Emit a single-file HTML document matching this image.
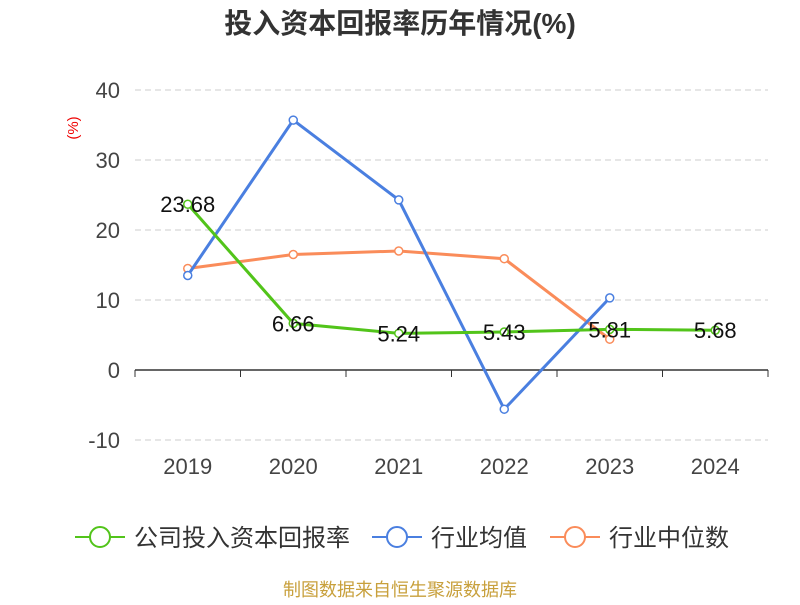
<!DOCTYPE html>
<html><head><meta charset="utf-8"><style>
body{margin:0;background:#fff;width:800px;height:600px;overflow:hidden;font-family:"Liberation Sans","Noto Sans CJK SC",sans-serif}
</style></head><body>
<svg id="c" width="800" height="600" xmlns="http://www.w3.org/2000/svg">
<text x="400" y="33" text-anchor="middle" font-size="28" font-weight="bold" fill="#333" font-family="Liberation Sans,Noto Sans CJK SC,sans-serif">投入资本回报率历年情况(%)</text>
<text x="78" y="128" text-anchor="middle" font-size="15" fill="#e00" transform="rotate(-90 78 128)">(%)</text>
<g id="grid"></g><g id="series"></g>
<text x="400" y="596" text-anchor="middle" font-size="18" fill="#c8a03c" font-family="Liberation Sans,Noto Sans CJK SC,sans-serif">制图数据来自恒生聚源数据库</text>
</svg>
<script>
const categories=["2019","2020","2021","2022","2023","2024"];
const yTicks=[-10,0,10,20,30,40];
const company=[23.68,6.66,5.24,5.43,5.81,5.68];
const industryMean=[13.5,35.7,24.3,-5.6,10.3];
const industryMedian=[14.5,16.5,17.0,15.9,4.4];
const companyLabels=["23.68","6.66","5.24","5.43","5.81","5.68"];
const NS="http://www.w3.org/2000/svg";
const x0=135,x1=768,bw=(x1-x0)/categories.length;
const xs=i=>x0+bw*(i+0.5);
const ys=v=>370-v*7;
const g=document.getElementById('grid'),s=document.getElementById('series');
function mk(p,tag,at){const e=document.createElementNS(NS,tag);for(const k in at)e.setAttribute(k,at[k]);p.appendChild(e);return e;}
yTicks.forEach(t=>{
 if(t!==0){const l=mk(g,'line',{x1:x0,x2:x1,y1:ys(t),y2:ys(t),stroke:'#ccc','stroke-dasharray':'6,4'});
 
 }
 const tx=mk(g,'text',{x:120,y:ys(t)+8,'text-anchor':'end','font-size':22,fill:'#444'});tx.textContent=t;
 
 
});
const ax=mk(g,'line',{x1:x0,x2:x1,y1:ys(0),y2:ys(0),stroke:'#333','stroke-width':1.5});


for(let i=0;i<=categories.length;i++){mk(g,'line',{x1:x0+bw*i,x2:x0+bw*i,y1:370,y2:377,stroke:'#333'});}
categories.forEach((c,i)=>{const t=mk(g,'text',{x:xs(i),y:474,'text-anchor':'middle','font-size':22,fill:'#444'});t.textContent=c;
 
 });
function series(data,color,name){
 const pl=mk(s,'polyline',{points:data.map((v,i)=>xs(i)+','+ys(v)).join(' '),fill:'none',stroke:color,'stroke-width':3});
 
 
 data.forEach((v,i)=>{const c=mk(s,'circle',{cx:xs(i),cy:ys(v),r:4,fill:'#fff',stroke:color,'stroke-width':1.5});
 
 });
}
series(industryMedian,'#fa8c5a','industry-median');
series(industryMean,'#4a7fe0','industry-mean');
series(company,'#52c41a','company');
company.forEach((v,i)=>{const t=mk(s,'text',{x:xs(i),y:ys(v)+8,'text-anchor':'middle','font-size':22,fill:'#111'});t.textContent=companyLabels[i];
 
 });
const leg=[['公司投入资本回报率','#52c41a',75],['行业均值','#4a7fe0',372],['行业中位数','#fa8c5a',550]];
leg.forEach(([n,c,x])=>{const gg=mk(s,'g',{});
 
 
 mk(gg,'line',{x1:x,x2:x+50,y1:537,y2:537,stroke:c,'stroke-width':2});
 mk(gg,'circle',{cx:x+25,cy:537,r:10,fill:'#fff',stroke:c,'stroke-width':2});
 const t=mk(gg,'text',{x:x+59,y:546,'font-size':24,fill:'#333'});t.textContent=n;});
</script>
</body></html>
